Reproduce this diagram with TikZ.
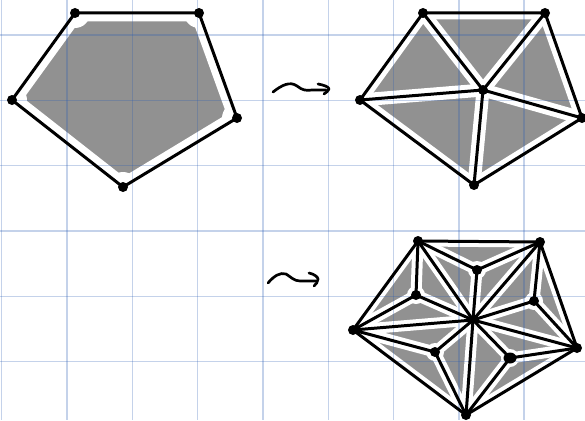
\documentclass[tikz,border=0pt]{standalone}
\begin{document}
\begin{tikzpicture}[x=1pt,y=-1pt,
  blk/.style={line width=3pt,line cap=round,line join=round,black},
  band/.style={line width=#1,white,line cap=round,line join=round},
  grayfill/.style={fill={rgb,255:red,145;green,145;blue,145}},
  gridline/.style={line width=1.4pt,draw={rgb,255:red,40;green,90;blue,180},opacity=0.27},
  dot/.style={fill=black},
  squig/.style={line width=2.7pt,line cap=round,line join=round,black}]
\useasboundingbox (0,0) rectangle (585,420);
\fill[white] (0,0) rectangle (585,420);
% ---------- coordinates
\coordinate (A1) at (75,13);  \coordinate (B1) at (199,13);
\coordinate (C1) at (237,118); \coordinate (D1) at (123,187);
\coordinate (E1) at (12,100);
\coordinate (A2) at (423,13);  \coordinate (B2) at (545,13);
\coordinate (C2) at (582,118); \coordinate (D2) at (474,185);
\coordinate (E2) at (360,100); \coordinate (O2) at (483,90);
\coordinate (A3) at (418,241); \coordinate (B3) at (540,242);
\coordinate (C3) at (577,348); \coordinate (D3) at (466,415);
\coordinate (E3) at (353,330); \coordinate (O3) at (473,320);
\coordinate (P1) at (477,270); \coordinate (P2) at (534,301);
\coordinate (P3) at (510,358); \coordinate (P4) at (435,352);
\coordinate (P5) at (416,295);
% ---------- gray fills
\fill[grayfill] (A1)--(B1)--(C1)--(D1)--(E1)--cycle;
\fill[grayfill] (A2)--(B2)--(C2)--(D2)--(E2)--cycle;
\fill[grayfill] (A3)--(B3)--(C3)--(D3)--(E3)--cycle;
% ---------- white bands (inside only)
\begin{scope}
  \clip (A1)--(B1)--(C1)--(D1)--(E1)--cycle;
  \draw[band=17pt] (A1)--(B1)--(C1)--(D1)--(E1)--cycle;
  \foreach \p in {A1,B1,C1,D1,E1} \fill[white] (\p) circle (15);
\end{scope}
\begin{scope}
  \clip (A2)--(B2)--(C2)--(D2)--(E2)--cycle;
  \draw[band=13pt] (A2)--(B2)--(C2)--(D2)--(E2)--cycle;
  \foreach \p in {A2,B2,C2,D2,E2} \draw[band=13pt] (O2)--(\p);
  \foreach \p in {A2,B2,C2,D2,E2} \fill[white] (\p) circle (11);
\end{scope}
\begin{scope}
  \clip (A3)--(B3)--(C3)--(D3)--(E3)--cycle;
  \draw[band=11pt] (A3)--(B3)--(C3)--(D3)--(E3)--cycle;
  \foreach \p in {A3,B3,C3,D3,E3,P1,P2,P3,P4,P5} \draw[band=11pt] (O3)--(\p);
  \draw[band=11pt] (A3)--(P1)--(B3)--(P2)--(C3)--(P3)--(D3)--(P4)--(E3)--(P5)--(A3);
  \foreach \p in {A3,B3,C3,D3,E3} \fill[white] (\p) circle (10);
  \foreach \p in {P1,P2,P3,P4,P5} \fill[white] (\p) circle (9);
\end{scope}
% ---------- grid (semi-transparent, on top of fills)
\foreach \i in {0,...,9} \draw[gridline] ({1.7+65.3*\i},0) -- ({1.7+65.3*\i},420);
\foreach \j in {0,...,6} \draw[gridline] (0,{35+65.3*\j}) -- (585,{35+65.3*\j});
% ---------- black edges
\draw[blk] (A1)--(B1)--(C1)--(D1)--(E1)--cycle;
\draw[blk] (A2)--(B2)--(C2)--(D2)--(E2)--cycle;
\foreach \p in {A2,B2,C2,D2,E2} \draw[blk] (O2)--(\p);
\draw[blk] (A3)--(B3)--(C3)--(D3)--(E3)--cycle;
\foreach \p in {A3,B3,C3,D3,E3,P1,P2,P3,P4,P5} \draw[blk] (O3)--(\p);
\draw[blk] (A3)--(P1)--(B3)--(P2)--(C3)--(P3)--(D3)--(P4)--(E3)--(P5)--cycle;
% ---------- dots
\foreach \p in {A1,B1,C1,D1,E1,A2,B2,C2,D2,E2,O2,A3,B3,C3,D3,E3,P1,P2,P4,P5}
  \fill[dot] (\p) circle (5);
\fill[dot] (P3) ellipse (6.5 and 5.5);
% ---------- squiggle arrows
\coordinate (s1) at (273,92); \coordinate (t1) at (326,90);
\draw[squig] (s1) .. controls (282,85) and (290,81) .. (297,86)
  .. controls (302,90) and (306,91) .. (312,90) -- (t1);
\draw[squig] (318,84) .. controls (324,85) and (329,87) .. (329,89)
  .. controls (329,91) and (326,92) .. (324,94);
\coordinate (s2) at (268,283); \coordinate (t2) at (316,281);
\draw[squig] (s2) .. controls (274,276) and (280,272) .. (286,274)
  .. controls (291,277) and (294,281) .. (300,281) -- (t2);
\draw[squig] (309,273) .. controls (314,274) and (318,277) .. (318,279)
  .. controls (318,282) and (316,284) .. (314,286);
\end{tikzpicture}
\end{document}
